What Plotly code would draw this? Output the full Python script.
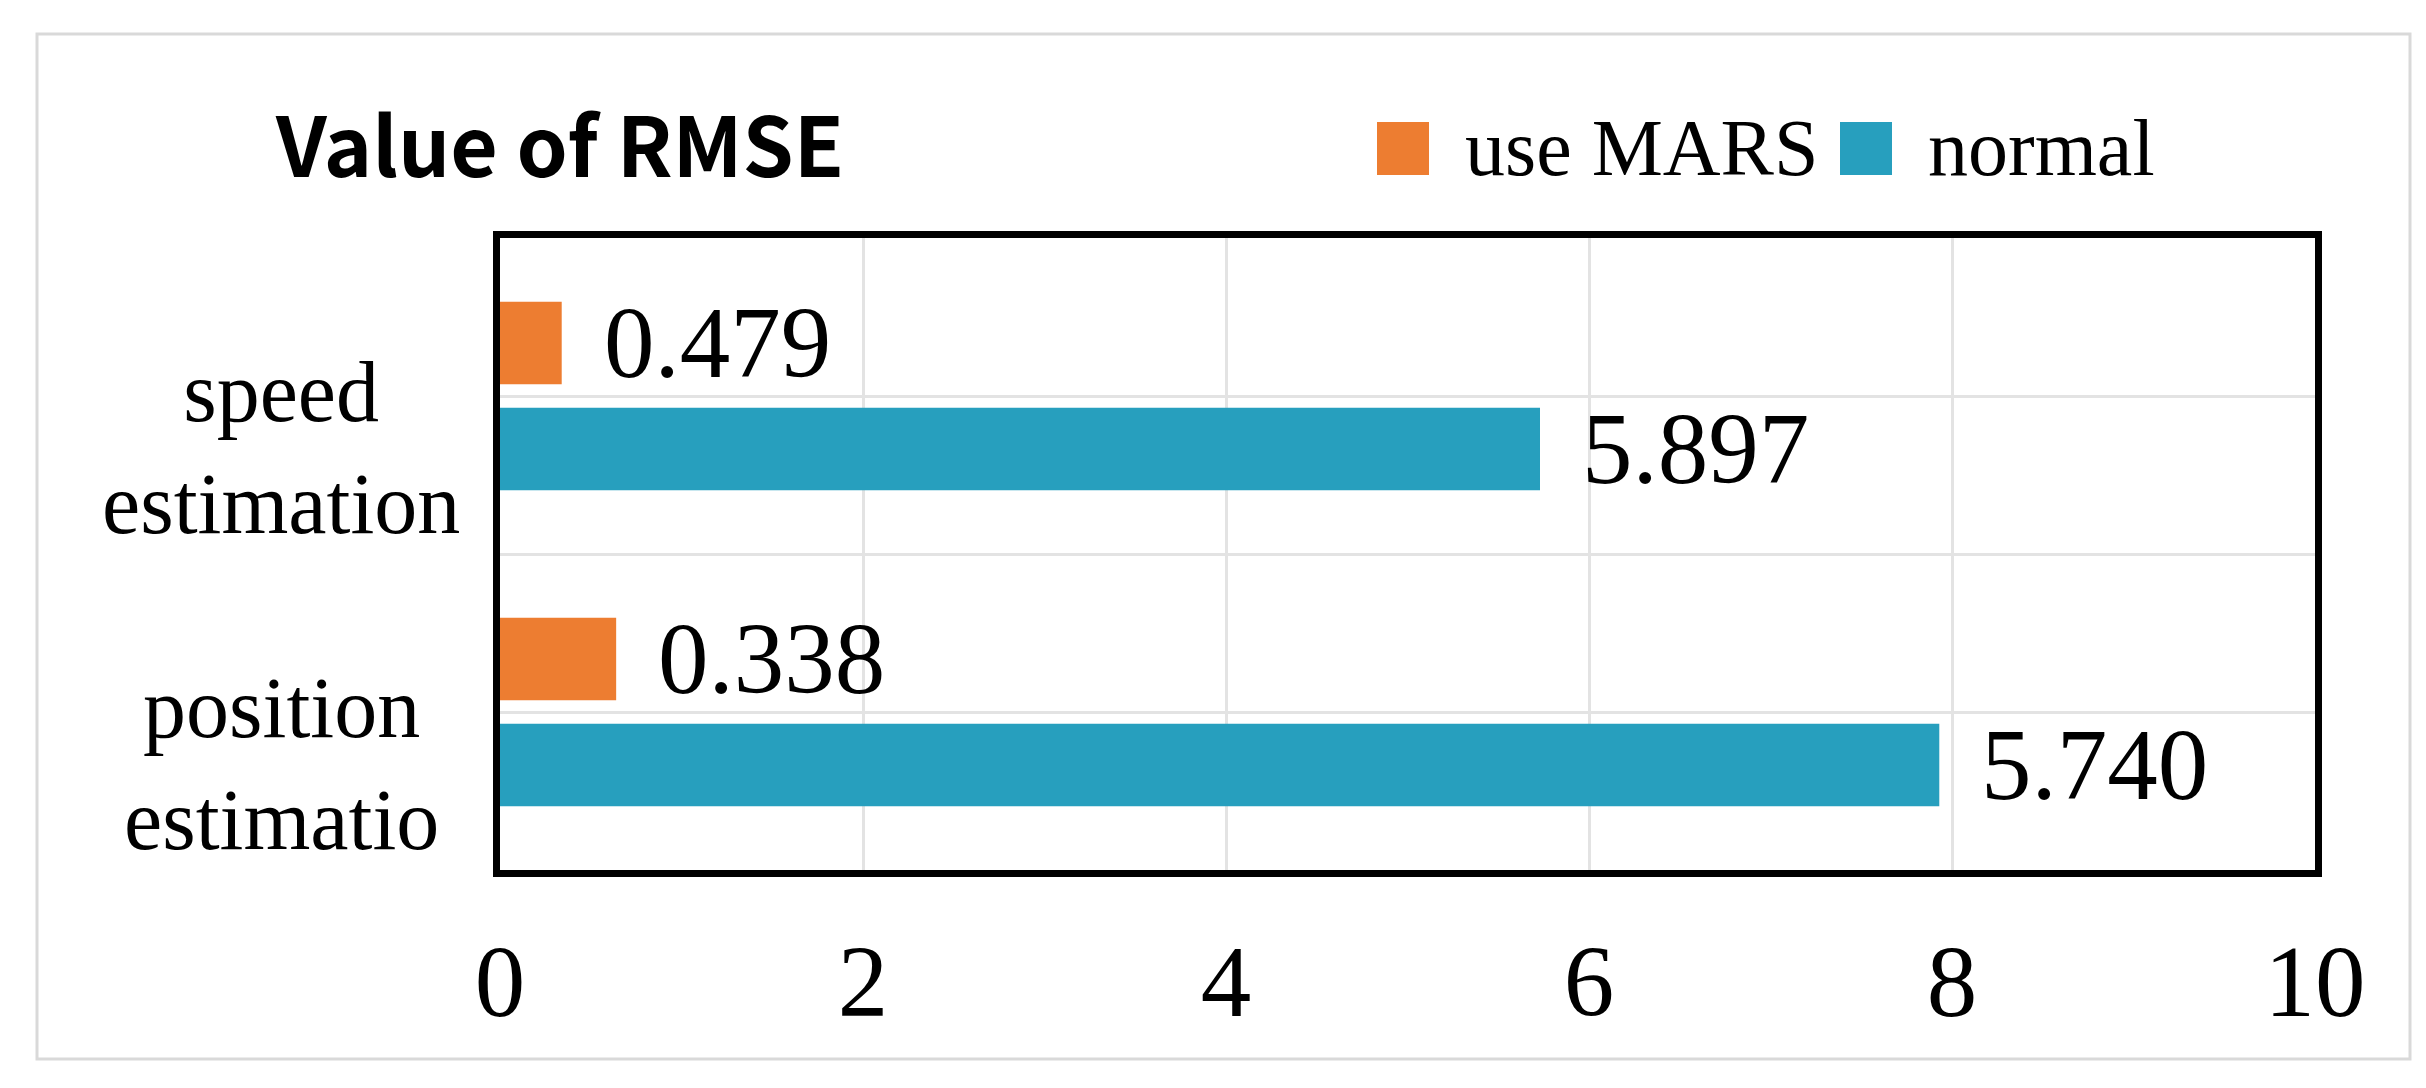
import plotly.graph_objects as go

# data
categories = ["speed<br>estimation", "position<br>estimatio"]
series_names = ["use MARS", "normal"]
series_colors = ["#ED7D31", "#279FBE"]
use_mars_values = [0.34, 0.64]
normal_values = [5.73, 7.93]
use_mars_labels = ["0.479", "0.338"]
normal_labels = ["5.897", "5.740"]
x_ticks = [0, 2, 4, 6, 8, 10]

W, H = 2426, 1088
L, R, T, B = 492, 119, 230, 226
PW, PH = W - L - R, H - T - B


def px_x(x):
    return (x - L) / PW


def px_y(y):
    return (H - B - y) / PH


BARGAP = 0.33
BARGROUPGAP = 0.22
SERIF = "Liberation Serif"

positions = list(range(len(categories)))
series_values = [use_mars_values, normal_values]
series_labels = [use_mars_labels, normal_labels]

fig = go.Figure()
for name, color, vals in zip(series_names, series_colors, series_values):
    fig.add_trace(
        go.Bar(
            y=positions,
            x=vals,
            name=name,
            orientation='h',
            marker=dict(color=color, line=dict(width=0)),
            showlegend=False
        )
    )

# value labels next to the bar ends
slot = (1 - BARGAP) / len(series_values)
for i, (vals, labels) in enumerate(zip(series_values, series_labels)):
    offset = -(1 - BARGAP) / 2 + slot * (i + 0.5)
    for pos, v, lab in zip(positions, vals, labels):
        fig.add_annotation(
            x=v, y=pos + offset,
            xref='x', yref='y',
            text=lab,
            showarrow=False,
            xanchor='left',
            yanchor='middle',
            xshift=40,
            font=dict(family=SERIF, size=101, color='black')
        )

# category labels
for pos, cat in zip(positions, categories):
    fig.add_annotation(
        x=px_x(273), y=pos + 0.165,
        xref='paper', yref='y',
        text=cat,
        showarrow=False,
        xanchor='center',
        yanchor='middle',
        align='center',
        font=dict(family=SERIF, size=86, color='black')
    )

# legend drawn by hand so the swatches can be large
legend_x = [1369, 1832]
for name, color, x0 in zip(series_names, series_colors, legend_x):
    fig.add_shape(
        type='rect', xref='paper', yref='paper',
        x0=px_x(x0), x1=px_x(x0 + 52),
        y0=px_y(167), y1=px_y(114),
        fillcolor=color, line=dict(width=0)
    )
    fig.add_annotation(
        x=px_x(x0 + 86), y=px_y(140),
        xref='paper', yref='paper',
        text=name,
        showarrow=False,
        xanchor='left',
        yanchor='middle',
        font=dict(family=SERIF, size=80, color='black')
    )

# outer light border
fig.add_shape(
    type='rect', xref='paper', yref='paper',
    x0=px_x(29), x1=px_x(2402),
    y0=px_y(1051), y1=px_y(26),
    line=dict(color='#D9D9D9', width=3),
    layer='below'
)

fig.update_layout(
    width=W,
    height=H,
    margin=dict(l=L, r=R, t=T, b=B),
    paper_bgcolor='white',
    plot_bgcolor='white',
    barmode='group',
    bargap=BARGAP,
    bargroupgap=BARGROUPGAP,
    showlegend=False,
    title=dict(
        text="<b>Value of RMSE</b>",
        x=268 / W,
        xanchor='left',
        y=1 - 140 / H,
        yanchor='middle',
        font=dict(family="Noto Sans CJK KR", size=82, color='black')
    )
)

fig.update_xaxes(
    range=[0, 10],
    tickvals=x_ticks,
    ticks='',
    ticklabelstandoff=18,
    tickfont=dict(family=SERIF, size=101, color='black'),
    showgrid=True,
    gridcolor='#E3E3E3',
    gridwidth=3,
    zeroline=False,
    showline=True,
    mirror=True,
    linecolor='black',
    linewidth=7
)

fig.update_yaxes(
    range=[len(categories) - 0.5, -0.5],
    tick0=0,
    dtick=0.5,
    showticklabels=False,
    ticks='',
    showgrid=True,
    gridcolor='#E3E3E3',
    gridwidth=3,
    zeroline=False,
    showline=True,
    mirror=True,
    linecolor='black',
    linewidth=7
)

fig.write_html("out.html")
